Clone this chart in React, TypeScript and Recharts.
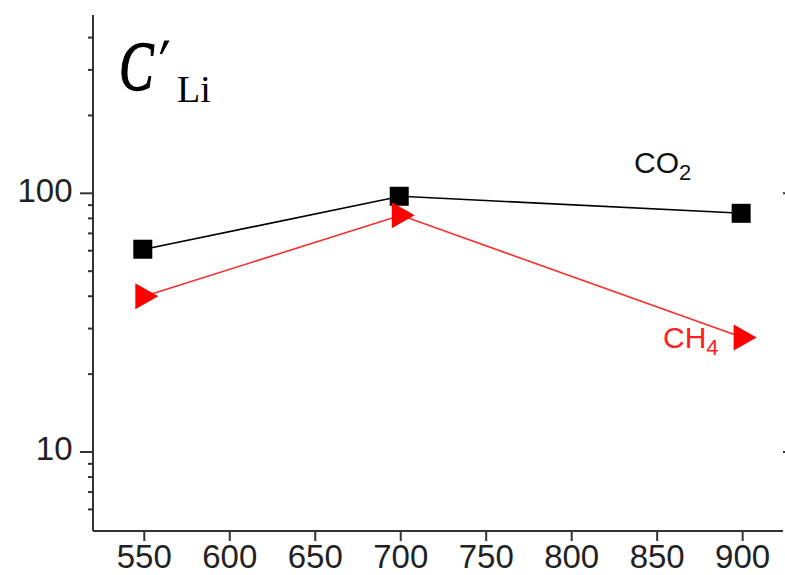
import React from "react";
import { LineChart, Line, XAxis, YAxis } from "recharts";

const temps = [550, 700, 900];
const co2 = [60.8, 97.4, 83.7];
const ch4 = [40.0, 82.2, 27.7];
const xTicks = [550, 600, 650, 700, 750, 800, 850, 900];
const yTicks = [6, 7, 8, 9, 10, 20, 30, 40, 50, 60, 70, 80, 90, 100, 200, 300, 400];
const yMajor = [10, 100];

const data = temps.map((t, i) => ({ t, co2: co2[i], ch4: ch4[i] }));

const AXIS = "#333";
const FONT = "'Liberation Sans', Arial, sans-serif";

const YTick = (props: any) => {
  const { x, y, payload } = props;
  const v = payload.value;
  const major = yMajor.includes(v);
  return (
    <g>
      <line x1={x - (major ? 13 : 5)} x2={x} y1={y} y2={y} stroke={AXIS} strokeWidth={2} />
      {major && (
        <text x={x - 20.5} y={y + 8.5} textAnchor="end" fontSize={33} fontFamily={FONT} fill="#222">
          {v}
        </text>
      )}
    </g>
  );
};

const RTick = (props: any) => {
  const { x, y } = props;
  return <line x1={x} x2={x + 2} y1={y} y2={y} stroke={AXIS} strokeWidth={2} />;
};

const Square = (p: any) => (
  <rect key={`s${p.index}`} x={p.cx - 11} y={p.cy - 9.5} width={19} height={19} fill="#000" />
);

const Tri = (p: any) => (
  <polygon
    key={`t${p.index}`}
    points={`${p.cx - 9},${p.cy - 13} ${p.cx - 9},${p.cy + 13} ${p.cx + 14},${p.cy}`}
    fill="#ff0000"
  />
);

export default function App() {
  return (
    <div style={{ position: "absolute", left: 0, top: 0, width: 785, height: 575, background: "#fff" }}>
      <LineChart width={785} height={575} data={data} margin={{ top: 15, right: 0, bottom: 0, left: 0 }}>
        <XAxis
          dataKey="t"
          type="number"
          domain={[520, 923.6]}
          allowDataOverflow
          ticks={xTicks}
          interval={0}
          height={44}
          tickSize={10}
          tickMargin={4}
          axisLine={{ stroke: AXIS, strokeWidth: 2 }}
          tickLine={{ stroke: AXIS, strokeWidth: 2 }}
          tick={{ fontSize: 33, fontFamily: FONT, fill: "#222" }}
        />
        <XAxis
          xAxisId="top"
          orientation="top"
          dataKey="t"
          type="number"
          domain={[520, 923.6]}
          allowDataOverflow
          height={0}
          tick={false}
          tickLine={false}
          axisLine={{ stroke: "#888", strokeWidth: 2 }}
        />
        <YAxis
          type="number"
          scale="log"
          domain={[4.95, 489]}
          allowDataOverflow
          ticks={yTicks}
          interval={0}
          width={93}
          tickSize={0}
          tickMargin={0}
          tickLine={false}
          axisLine={{ stroke: AXIS, strokeWidth: 2 }}
          tick={<YTick />}
        />
        <YAxis
          yAxisId="right"
          orientation="right"
          type="number"
          scale="log"
          domain={[4.95, 489]}
          allowDataOverflow
          ticks={yMajor}
          interval={0}
          width={2}
          tickSize={0}
          tickMargin={0}
          tickLine={false}
          axisLine={false}
          tick={<RTick />}
        />
        <Line
          dataKey="co2"
          stroke="#000"
          strokeWidth={1.6}
          dot={Square}
          activeDot={false}
          isAnimationActive={false}
        />
        <Line
          dataKey="ch4"
          stroke="#ff2a2a"
          strokeWidth={1.6}
          dot={Tri}
          activeDot={false}
          isAnimationActive={false}
        />
      </LineChart>
      <svg
        width={785}
        height={575}
        style={{ position: "absolute", left: 0, top: 0, pointerEvents: "none" }}
      >
        <text
          transform="translate(119,90) scale(0.74,1)"
          fontFamily="'Liberation Serif', serif"
          fontStyle="italic"
          fontSize={70}
          fill="#000"
        >
          <tspan stroke="#000" strokeWidth={1.4}>C</tspan>
          <tspan fontStyle="normal" fontFamily="'DejaVu Serif', serif" fontSize={72} dx={7} dy={4}>
            ′
          </tspan>
        </text>
        <text x={177} y={102} fontFamily="'Liberation Serif', serif" fontSize={38} fill="#000">
          Li
        </text>
        <text x={634} y={173} fontFamily={FONT} fontSize={30} fill="#111">
          CO
          <tspan fontSize={22} dy={7}>2</tspan>
        </text>
        <text x={663} y={348} fontFamily={FONT} fontSize={30} fill="#ff2020">
          CH
          <tspan fontSize={22} dy={7}>4</tspan>
        </text>
      </svg>
    </div>
  );
}
